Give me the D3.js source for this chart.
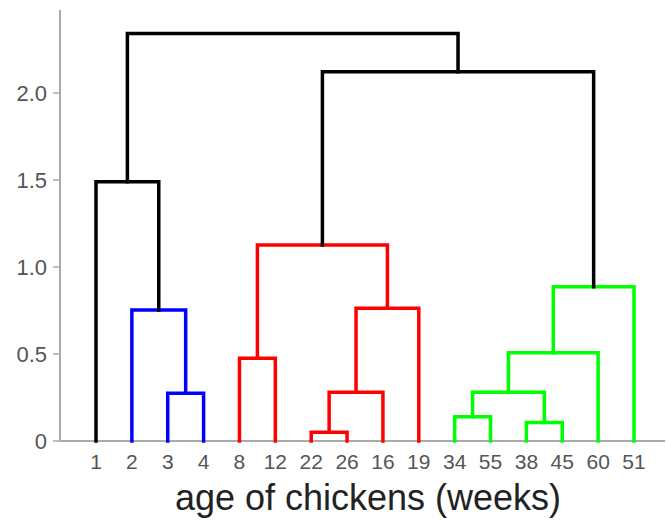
<!DOCTYPE html>
<html>
<head>
<meta charset="utf-8">
<script src="https://cdn.jsdelivr.net/npm/d3@7"></script>
<style>
  html, body { margin: 0; padding: 0; background: #fff; }
  svg { display: block; }
</style>
</head>
<body>
<div id="chart"></div>
<script>
// Leaf labels in dendrogram order
const leafLabels = ["1","2","3","4","8","12","22","26","16","19","34","55","38","45","60","51"];
// Merge matrix (R style): negative = leaf (1-based), positive = earlier merge (1-based)
const mergeLeft  = [-3, -2, -1, -5, -7, 5, 6, 4, -11, -13, 9, 11, 12, 8, 3];
const mergeRight = [-4,  1,  2, -6, -8, -9, -10, 7, -12, -14, 10, -15, -16, 13, 14];
const mergeHeight = [0.274, 0.753, 1.49, 0.475, 0.05, 0.28, 0.763, 1.126, 0.14, 0.107, 0.28, 0.507, 0.887, 2.122, 2.342];
const mergeCluster = ["blue","blue","black","red","red","red","red","red","green","green","green","green","green","black","black"];
const clusterColors = { black: "#000000", blue: "#0000ff", red: "#ff0000", green: "#00ff00" };
const yTicks = [0, 0.5, 1.0, 1.5, 2.0];
const yTickLabels = ["0", "0.5", "1.0", "1.5", "2.0"];
const xTitle = "age of chickens (weeks)";

const W = 666, H = 522;
const svg = d3.select("#chart").append("svg").attr("width", W).attr("height", H);

const x = d3.scalePoint().domain(leafLabels).range([96, 634]);
const y = d3.scaleLinear().domain([0, 2.0]).range([441, 93]);

// axes lines
svg.append("line").attr("x1", 60).attr("x2", 60).attr("y1", y(2.477)).attr("y2", y(0))
  .attr("stroke", "#aaaaaa").attr("stroke-width", 2);
svg.append("line").attr("x1", 60).attr("x2", 665).attr("y1", y(0)).attr("y2", y(0))
  .attr("stroke", "#aaaaaa").attr("stroke-width", 2);

// y ticks
const yAxis = svg.append("g");
yTicks.forEach((t, i) => {
  yAxis.append("line").attr("x1", 53).attr("x2", 60).attr("y1", y(t)).attr("y2", y(t))
    .attr("stroke", "#aaaaaa").attr("stroke-width", 1.5);
  yAxis.append("text").attr("x", 47).attr("y", y(t)).attr("dy", "0.36em")
    .attr("text-anchor", "end").attr("font-family", "Liberation Sans, Arial, sans-serif")
    .attr("font-size", 22).attr("fill", "#555").text(yTickLabels[i]);
});

// x tick labels
svg.append("g").selectAll("text").data(leafLabels).join("text")
  .attr("x", d => x(d)).attr("y", 469)
  .attr("text-anchor", "middle").attr("font-family", "Liberation Sans, Arial, sans-serif")
  .attr("font-size", 21).attr("fill", "#555").text(d => d);

// x title
svg.append("text").attr("x", 368).attr("y", 510).attr("text-anchor", "middle")
  .attr("font-family", "Liberation Sans, Arial, sans-serif").attr("font-size", 36)
  .attr("fill", "#222").text(xTitle);

// compute node positions
const nodeX = [];
function pos(ref) {
  if (ref < 0) return { x: x(leafLabels[-ref - 1]), h: 0 };
  return { x: nodeX[ref - 1], h: mergeHeight[ref - 1] };
}
for (let i = 0; i < mergeHeight.length; i++) {
  const a = pos(mergeLeft[i]), b = pos(mergeRight[i]);
  nodeX[i] = (a.x + b.x) / 2;
}

const g = svg.append("g");
mergeHeight.forEach((h, i) => {
  const a = pos(mergeLeft[i]), b = pos(mergeRight[i]);
  const p = d3.path();
  p.moveTo(a.x, y(a.h));
  p.lineTo(a.x, y(h));
  p.lineTo(b.x, y(h));
  p.lineTo(b.x, y(b.h));
  g.append("path").attr("d", p.toString()).attr("fill", "none")
    .attr("stroke", clusterColors[mergeCluster[i]]).attr("stroke-width", 3.5)
    .attr("stroke-linejoin", "miter").attr("stroke-linecap", "square");
});
</script>
</body>
</html>
